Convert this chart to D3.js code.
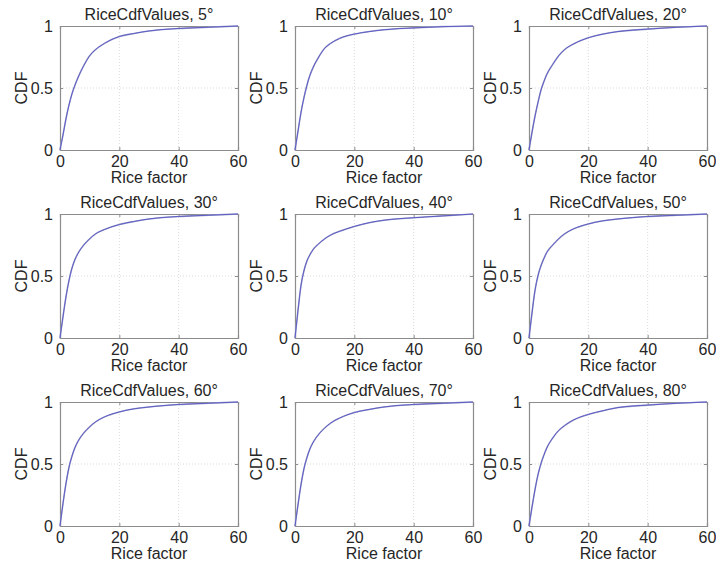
<!DOCTYPE html>
<html>
<head>
<meta charset="utf-8">
<script src="https://cdn.jsdelivr.net/npm/d3@7"></script>
<style>
  html, body { margin: 0; padding: 0; background: #fff; }
  svg text { font-family: "Liberation Sans", Arial, sans-serif; fill: #262626; }
</style>
</head>
<body>
<svg id="chart" width="716" height="569"></svg>
<script>
// Angles (panel titles)
const angles = [5, 10, 20, 30, 40, 50, 60, 70, 80];
// Rice factor sample points (x)
const riceFactor = [0, 1, 2, 3, 4, 5, 6, 8, 10, 12, 15, 20, 25, 30, 40, 50, 60];
// CDF values per angle
const cdf5  = [0, 0.12, 0.25, 0.36, 0.45, 0.52, 0.58, 0.68, 0.76, 0.81, 0.86, 0.915, 0.94, 0.96, 0.98, 0.99, 1.0];
const cdf10 = [0, 0.15, 0.30, 0.42, 0.52, 0.60, 0.66, 0.75, 0.82, 0.86, 0.90, 0.935, 0.955, 0.97, 0.985, 0.995, 1.0];
const cdf20 = [0, 0.14, 0.27, 0.38, 0.48, 0.55, 0.61, 0.69, 0.76, 0.81, 0.855, 0.905, 0.935, 0.955, 0.975, 0.99, 1.0];
const cdf30 = [0, 0.17, 0.33, 0.46, 0.56, 0.63, 0.68, 0.75, 0.80, 0.84, 0.875, 0.915, 0.94, 0.96, 0.98, 0.99, 1.0];
const cdf40 = [0, 0.22, 0.42, 0.54, 0.62, 0.67, 0.71, 0.76, 0.80, 0.83, 0.86, 0.90, 0.93, 0.95, 0.97, 0.985, 1.0];
const cdf50 = [0, 0.20, 0.38, 0.50, 0.58, 0.64, 0.69, 0.75, 0.80, 0.84, 0.88, 0.92, 0.945, 0.96, 0.98, 0.99, 1.0];
const cdf60 = [0, 0.18, 0.34, 0.47, 0.56, 0.63, 0.68, 0.75, 0.80, 0.84, 0.88, 0.92, 0.945, 0.96, 0.98, 0.99, 1.0];
const cdf70 = [0, 0.17, 0.33, 0.46, 0.55, 0.62, 0.67, 0.74, 0.79, 0.83, 0.87, 0.915, 0.94, 0.96, 0.98, 0.99, 1.0];
const cdf80 = [0, 0.15, 0.29, 0.41, 0.50, 0.57, 0.63, 0.71, 0.77, 0.81, 0.855, 0.90, 0.93, 0.955, 0.975, 0.99, 1.0];
const cdfSeries = [cdf5, cdf10, cdf20, cdf30, cdf40, cdf50, cdf60, cdf70, cdf80];
// Tick labels
const xTicks = [0, 20, 40, 60];
const yTicks = [0, 0.5, 1];

const svg = d3.select("#chart");
const colX = [60, 295, 529];
const rowY = [26, 214, 402];
const pw = 178, ph = 124;
const fs = 16;

angles.forEach((ang, i) => {
  const ox = colX[i % 3], oy = rowY[Math.floor(i / 3)];
  const g = svg.append("g").attr("transform", `translate(${ox},${oy})`);
  const x = d3.scaleLinear().domain([0, 60]).range([0, pw]);
  const y = d3.scaleLinear().domain([0, 1]).range([ph, 0]);

  // grid
  g.selectAll(".gx").data(xTicks.slice(1, -1)).enter().append("line")
    .attr("x1", d => x(d)).attr("x2", d => x(d)).attr("y1", 0).attr("y2", ph)
    .attr("stroke", "#d0d0d0").attr("stroke-width", 0.8).attr("stroke-dasharray", "1,2");
  g.selectAll(".gy").data(yTicks.slice(1, -1)).enter().append("line")
    .attr("y1", d => y(d)).attr("y2", d => y(d)).attr("x1", 0).attr("x2", pw)
    .attr("stroke", "#d0d0d0").attr("stroke-width", 0.8).attr("stroke-dasharray", "1,2");

  // axes (ticks inward)
  const xa = g.append("g").attr("transform", `translate(0,${ph})`)
    .call(d3.axisBottom(x).tickValues(xTicks).tickSize(-3).tickPadding(6).tickFormat(d3.format("d")));
  const xt = g.append("g").call(d3.axisTop(x).tickValues(xTicks).tickSize(-3).tickFormat(""));
  const ya = g.append("g")
    .call(d3.axisLeft(y).tickValues(yTicks).tickSize(-3).tickPadding(7).tickFormat(d => d === 0.5 ? "0.5" : d3.format("d")(d)));
  const yr = g.append("g").attr("transform", `translate(${pw},0)`)
    .call(d3.axisRight(y).tickValues(yTicks).tickSize(-3).tickFormat(""));
  [xa, xt, ya, yr].forEach(a => {
    a.select(".domain").attr("stroke", "#8c8c8c").attr("stroke-width", 1.2);
    a.selectAll(".tick line").attr("stroke", "#8c8c8c");
    a.selectAll("text").attr("font-size", fs).attr("font-family", "Liberation Sans, Arial, sans-serif").attr("fill", "#262626");
  });
  xa.selectAll("text").attr("dy", "0.68em");

  // curve
  const pts = riceFactor.map((r, k) => [r, cdfSeries[i][k]]);
  const line = d3.line().x(d => x(d[0])).y(d => y(d[1])).curve(d3.curveMonotoneX);
  g.append("path").datum(pts).attr("d", line)
    .attr("fill", "none").attr("stroke", "#a8a8cc").attr("stroke-width", 1.6);
  g.append("path").datum(pts).attr("d", line)
    .attr("fill", "none").attr("stroke", "#4848c4").attr("stroke-width", 0.8);

  // title
  g.append("text").attr("x", pw / 2).attr("y", -6).attr("text-anchor", "middle")
    .attr("font-size", fs).text(`RiceCdfValues, ${ang}°`);
  // x label
  g.append("text").attr("x", pw / 2).attr("y", ph + 33).attr("text-anchor", "middle")
    .attr("font-size", fs).text("Rice factor");
  // y label
  g.append("text").attr("transform", `translate(-33,${ph / 2}) rotate(-90)`)
    .attr("text-anchor", "middle").attr("font-size", fs).text("CDF");
});
</script>
</body>
</html>
